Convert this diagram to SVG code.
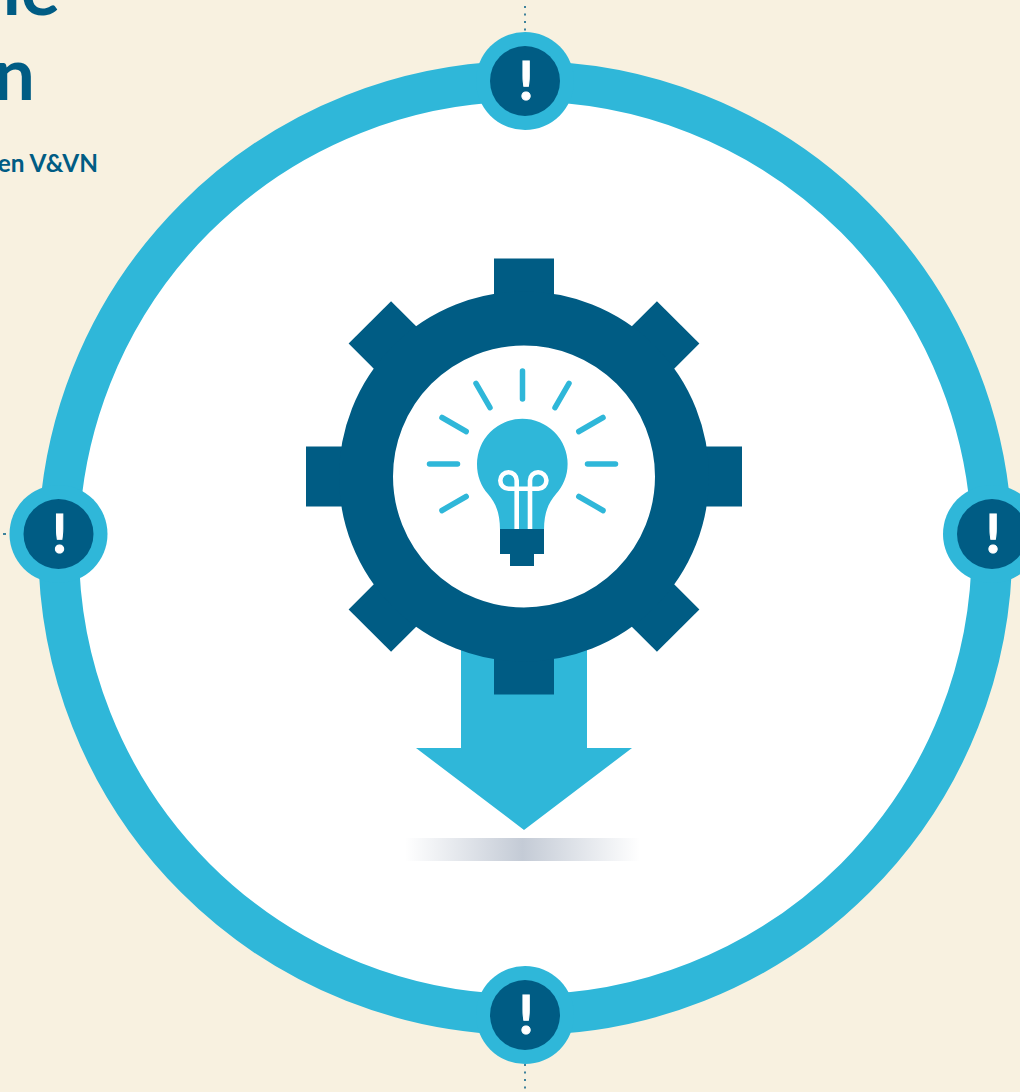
<svg xmlns="http://www.w3.org/2000/svg" width="1020" height="1092" viewBox="0 0 1020 1092">
<style>
.lb{fill:#2fb7d9}.dk{fill:#005c84}
.ray{stroke:#2fb7d9;stroke-width:5.5;stroke-linecap:round;fill:none}
.fil{stroke:#fff;stroke-width:4.600;fill:none}
.dots{stroke:#005c84;stroke-width:2;stroke-dasharray:2 5.5;fill:none;opacity:.75}
.t{font-family:"Lato","Liberation Sans",sans-serif;font-weight:700;fill:#005c84}
.ex{font-family:"Lato","Liberation Sans",sans-serif;font-weight:700;font-size:54px;fill:#fff;stroke:#fff;stroke-width:1;text-anchor:middle}
</style>
<defs>
<linearGradient id="sh"><stop offset="0" stop-color="#c4cbd6" stop-opacity="0"/><stop offset=".5" stop-color="#c4cbd6"/><stop offset="1" stop-color="#c4cbd6" stop-opacity="0"/></linearGradient>
<g id="alert"><circle r="49" class="lb"/><circle r="35" class="dk"/><text class="ex" x="1" y="18.500">!</text></g>
<rect id="tooth" x="-30" y="-218" width="60" height="60" class="dk"/>
<line id="ray" x1="0" y1="-65" x2="0" y2="-93" class="ray"/>
</defs>
<rect width="1020" height="1092" fill="#f8f1e0"/>
<g id="title">
<text class="t" x="60" y="15" font-size="73" text-anchor="end">ie</text>
<text class="t" x="35" y="100" font-size="73" text-anchor="end">n</text>
<text class="t" x="98" y="172" font-size="24.400" text-anchor="end">en V&amp;VN</text>
</g>
<g id="connectors">
<line class="dots" x1="525" y1="6" x2="525" y2="32"/>
<line class="dots" x1="525" y1="1064" x2="525" y2="1090"/>
<line class="dots" x1="3" y1="534" x2="6" y2="534" style="stroke-dasharray:none"/>
</g>
<g id="ring"><circle cx="525.300" cy="548" r="466.700" fill="#fff" stroke="#2fb7d9" stroke-width="40.600"/></g>
<g id="arrow">
<path class="lb" d="M461 640H587V748H632L524 830L416 748H461Z"/>
<rect x="405" y="838" width="235" height="23" fill="url(#sh)"/>
</g>
<g id="gear">
<g transform="translate(524 476.500)">
<use href="#tooth"/><use href="#tooth" transform="rotate(45)"/><use href="#tooth" transform="rotate(90)"/><use href="#tooth" transform="rotate(135)"/><use href="#tooth" transform="rotate(180)"/><use href="#tooth" transform="rotate(225)"/><use href="#tooth" transform="rotate(270)"/><use href="#tooth" transform="rotate(315)"/>
<circle r="158" fill="none" stroke="#005c84" stroke-width="54"/>
</g>
</g>
<g id="bulb">
<g transform="translate(522.500 464)">
<use href="#ray"/><use href="#ray" transform="rotate(30)"/><use href="#ray" transform="rotate(60)"/><use href="#ray" transform="rotate(90)"/><use href="#ray" transform="rotate(120)"/><use href="#ray" transform="rotate(-30)"/><use href="#ray" transform="rotate(-60)"/><use href="#ray" transform="rotate(-90)"/><use href="#ray" transform="rotate(-120)"/>
</g>
<path class="lb" d="M500 530C500 512 495 502 488 494C481 486 477 476 477 464A45.300 45.300 0 0 1 567.600 464C567.600 476 563 486 556 494C549 502 544 512 544 530Z"/>
<path class="fil" d="M516.700 529V480.500A8.200 8.200 0 1 0 508.500 488.700H538.500A8.200 8.200 0 1 0 530 480.500V529"/>
<path class="dk" d="M500 529H544V554H534V566H510V554H500Z"/>
</g>
<g id="alert-top"><use href="#alert" x="525" y="81"/></g>
<g id="alert-left"><use href="#alert" x="58.500" y="534"/></g>
<g id="alert-right"><use href="#alert" x="992" y="534"/></g>
<g id="alert-bottom"><use href="#alert" x="525" y="1015"/></g>
</svg>
